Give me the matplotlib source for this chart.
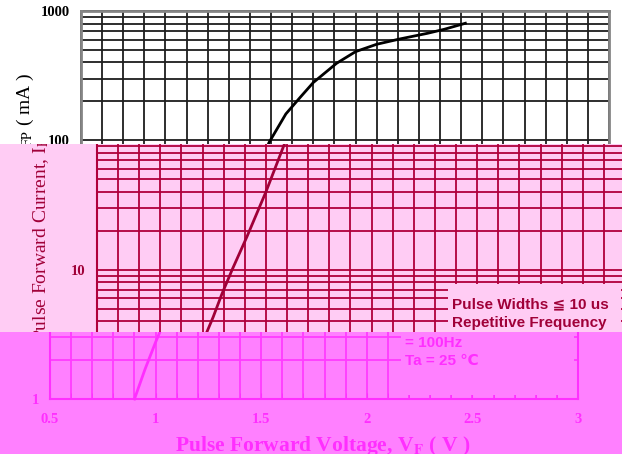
import numpy as np
import matplotlib.pyplot as plt
from matplotlib.patches import Rectangle
from matplotlib.ticker import FixedLocator, LogLocator, NullFormatter

# curve
voltage = [0.90, 0.95, 1.00, 1.05, 1.09, 1.14, 1.21, 1.30, 1.39, 1.47,
           1.54, 1.60, 1.71, 1.80, 1.90, 2.01, 2.14, 2.22, 2.32]
current = [1.0, 1.7, 2.75, 4.3, 6.4, 10.0, 18.0, 40.0, 96.0, 160.0,
           217.0, 280.0, 394.0, 485.0, 553.0, 608.0, 672.0, 722.0, 804.0]

x_ticks = [0.5, 1, 1.5, 2, 2.5, 3]
x_tick_labels = ['0.5', '1', '1.5', '2', '2.5', '3']
y_ticks = [1, 10, 100, 1000]
y_tick_labels = ['1', '10', '100', '1000']
note_lines = ['Pulse Widths \u2266 10 us', 'Repetitive Frequency', '= 100Hz', 'Ta = 25 \u2103']
note_y = [5.4, 3.85, 2.7, 1.97]

W, H = 622, 454
plt.rcParams['font.family'] = ['Liberation Serif', 'DejaVu Serif']
plt.rcParams['mathtext.fontset'] = 'stix'
fig = plt.figure(figsize=(W / 100, H / 100), dpi=100)

# the scan is split in three strips, each one shifted sideways and tinted
# (top px, bottom px, shift px, background, grid, ink, frame,
#  y labels shown, note lines shown, has ylabel, has x labels)
bands = [
    (0, 143.5, 31, 'white', '#1e1e1e', 'black', '#858585', [100, 1000], [], True, False),
    (143.5, 332, 47, '#FFCCF4', '#B0003C', '#A00038', '#B0003C', [10], [0, 1], True, False),
    (332, 454, 0, '#FF80FF', '#FF3CFF', '#FF2EFF', '#FF30FF', [1], [2, 3], False, True),
]

pairs = []
for top, bot, dx, bg, gc, ink, frame, ylabs, notes, has_yl, has_x in bands:
    strip = Rectangle((0, 1 - bot / H), 1, (bot - top) / H, transform=fig.transFigure,
                      facecolor=bg, edgecolor='none', zorder=-10)
    fig.add_artist(strip)

    ax = fig.add_axes([(50 + dx) / W, (H - 399) / H, 528 / W, 388 / H])
    ax.patch.set_visible(False)
    ax.set_yscale('log')
    ax.set_xlim(0.5, 3)
    ax.set_ylim(1, 1000)
    ax.set_xticks(x_ticks, x_tick_labels)
    ax.xaxis.set_minor_locator(FixedLocator(np.arange(0.5, 3.01, 0.1)))
    ax.set_yticks(y_ticks, [t if v in ylabs else '' for v, t in zip(y_ticks, y_tick_labels)])
    ax.yaxis.set_minor_locator(LogLocator(subs=range(2, 10)))
    ax.yaxis.set_minor_formatter(NullFormatter())
    ax.grid(which='both', color=gc, lw=1.3)
    ax.set_axisbelow(True)
    ax.tick_params(which='both', direction='in', length=4, color=frame)
    ax.tick_params(axis='y', which='both', length=0, pad=8)
    ax.tick_params(axis='x', pad=10, labelbottom=has_x)
    for lab in ax.get_xticklabels() + ax.get_yticklabels():
        lab.set_color(ink)
        lab.set_fontweight('bold')
        lab.set_fontsize(10.5)
    for sp in ax.spines.values():
        sp.set_color(frame)
        sp.set_linewidth(2 if dx == 31 else 1.5)

    # blank box behind the test conditions
    ax.add_patch(Rectangle((2.16, 1.08), 0.82, 7.7 - 1.08, facecolor=bg,
                           edgecolor='none', zorder=1))
    ax.plot(voltage, current, color=ink, lw=2, zorder=3)
    for i in notes:
        ax.text(2.18, note_y[i], note_lines[i], family=['Liberation Sans', 'DejaVu Sans'],
                weight='bold', size=11, color=ink, va='center', zorder=4)

    if has_yl:
        ax.text(-0.105, 0.495, 'Pulse Forward Current, I$_{\\rm FP}$ ( mA )',
                transform=ax.transAxes, rotation=90, ha='center', va='center',
                fontsize=14, color=ink)
    if has_x:
        ax.text(0.517, -0.134, 'Pulse Forward Voltage, V$_{\\mathbf{F}}$ ( V )',
                transform=ax.transAxes, ha='center', va='baseline',
                fontsize=15.5, fontweight='bold', color=ink)
    pairs.append((ax, strip))

# ticks are made on first draw, so clip everything afterwards
fig.canvas.draw()
for ax, strip in pairs:
    for art in ax.findobj(include_self=False):
        art.set_clip_on(True)
        art.set_clip_path(strip)

fig.savefig('out.png', dpi=100)
